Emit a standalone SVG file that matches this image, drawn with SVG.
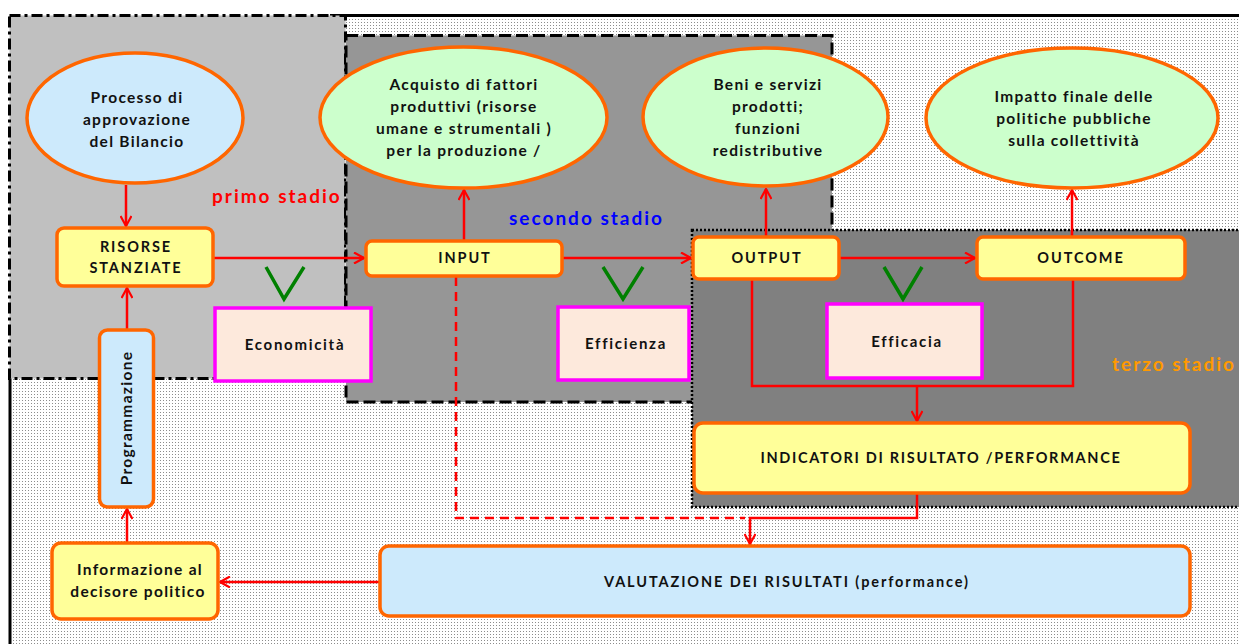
<svg xmlns="http://www.w3.org/2000/svg" width="1239" height="644" viewBox="0 0 1239 644">
  <defs>
    <pattern id="dots" width="3" height="3" patternUnits="userSpaceOnUse">
      <rect width="3" height="3" fill="#ffffff"/>
      <rect x="1" y="1" width="1" height="1" fill="#8c8c8c"/>
    </pattern>
    <marker id="arr" viewBox="0 0 12 12" refX="11" refY="6" markerWidth="12" markerHeight="12" markerUnits="userSpaceOnUse" orient="auto">
      <path d="M1,0.5 L11,6 L1,11.5" fill="none" stroke="#ff0000" stroke-width="2.2"/>
    </marker>
    <style>
      .t { font-family: Lato, "Liberation Sans", sans-serif; font-weight: bold; fill: #111111; text-anchor: middle; }
      .e { font-size: 15.5px; letter-spacing: 1.3px; }
      .b { font-size: 14.5px; letter-spacing: 1.9px; }
      .m { font-size: 15px; letter-spacing: 1.7px; }
      .stage { font-family: Lato, "Liberation Sans", sans-serif; font-weight: bold; font-size: 19px; letter-spacing: 2px; }
      .ell-b { fill: #cdeafc; stroke: #ff6600; stroke-width: 3.5; }
      .ell-g { fill: #ccffcc; stroke: #ff6600; stroke-width: 3.5; }
      .yel { fill: #ffff99; stroke: #ff6600; stroke-width: 3.5; }
      .blu { fill: #cdeafc; stroke: #ff6600; stroke-width: 3.5; }
      .mag { fill: #fde9dc; stroke: #ff00ff; stroke-width: 3.5; }
      .ln { fill: none; stroke: #ff0000; stroke-width: 2.5; }
      .chk { fill: none; stroke: #008000; stroke-width: 3.5; }
    </style>
  </defs>

  <!-- page background -->
  <rect x="0" y="0" width="1239" height="644" fill="#ffffff"/>
  <rect x="9" y="15" width="1230" height="629" fill="url(#dots)"/>

  <!-- outer frame -->
  <g id="frame" stroke="#000000" stroke-width="3" fill="none">
    <line x1="330" y1="15.5" x2="1239" y2="15.5"/>
    <line x1="10" y1="378" x2="10" y2="644"/>
  </g>

  <!-- stage areas -->
  <g id="stage1">
    <rect x="9.5" y="15.5" width="336" height="363" fill="#c0c0c0" stroke="#000000" stroke-width="3" stroke-dasharray="11,4,3,4"/>
  </g>
  <g id="stage2">
    <rect x="346" y="35.5" width="486" height="366.5" fill="#969696" stroke="#000000" stroke-width="3" stroke-dasharray="12,5"/>
  </g>
  <g id="stage3">
    <rect x="692" y="230" width="552" height="277" fill="#808080" stroke="#000000" stroke-width="2.5" stroke-dasharray="2,2"/>
  </g>

  <!-- stage labels -->
  <text class="stage" x="212" y="203" fill="#ff0000">primo stadio</text>
  <text class="stage" x="509" y="225" fill="#0000ff">secondo stadio</text>
  <text class="stage" x="1112" y="371" fill="#ff9900">terzo stadio</text>

  <!-- connectors -->
  <g id="connectors">
    <line class="ln" x1="126" y1="185" x2="126" y2="226" marker-end="url(#arr)"/>
    <line class="ln" x1="127" y1="329" x2="127" y2="288" marker-end="url(#arr)"/>
    <line class="ln" x1="127" y1="542" x2="127" y2="509" marker-end="url(#arr)"/>
    <line class="ln" x1="380" y1="582" x2="220" y2="582" marker-end="url(#arr)"/>
    <line class="ln" x1="213" y1="258" x2="364" y2="258" marker-end="url(#arr)"/>
    <line class="ln" x1="464" y1="240" x2="464" y2="190" marker-end="url(#arr)"/>
    <line class="ln" x1="562" y1="258" x2="691" y2="258" marker-end="url(#arr)"/>
    <line class="ln" x1="766" y1="236" x2="766" y2="189" marker-end="url(#arr)"/>
    <line class="ln" x1="839" y1="258" x2="975" y2="258" marker-end="url(#arr)"/>
    <line class="ln" x1="1072" y1="237" x2="1072" y2="190" marker-end="url(#arr)"/>
    <polyline class="ln" points="752,279 752,386 1073,386 1073,279"/>
    <line class="ln" x1="917" y1="386" x2="917" y2="421" marker-end="url(#arr)"/>
    <polyline class="ln" points="917,493 917,518 750,518 750,544" marker-end="url(#arr)"/>
    <polyline class="ln" points="456,277 456,518 745,518" stroke-dasharray="9,6"/>
  </g>

  <!-- check marks -->
  <g id="checks">
    <polyline class="chk" points="266,267 284,299 304,267"/>
    <polyline class="chk" points="603,267 623,299 643,267"/>
    <polyline class="chk" points="884,267 903,299 922,267"/>
  </g>

  <!-- ellipses -->
  <g id="processo">
    <ellipse class="ell-b" cx="135" cy="118" rx="108" ry="65"/>
    <text class="t e" x="137" y="103">Processo di</text>
    <text class="t e" x="137" y="125">approvazione</text>
    <text class="t e" x="137" y="147">del Bilancio</text>
  </g>
  <g id="acquisto">
    <ellipse class="ell-g" cx="463.5" cy="117.5" rx="143.5" ry="70.5"/>
    <text class="t e" x="464" y="90">Acquisto di fattori</text>
    <text class="t e" x="464" y="112">produttivi (risorse</text>
    <text class="t e" x="464" y="134">umane e strumentali )</text>
    <text class="t e" x="464" y="156">per la produzione /</text>
  </g>
  <g id="beni">
    <ellipse class="ell-g" cx="765.5" cy="117" rx="122.5" ry="69"/>
    <text class="t e" x="768" y="90">Beni e servizi</text>
    <text class="t e" x="768" y="112">prodotti;</text>
    <text class="t e" x="768" y="134">funzioni</text>
    <text class="t e" x="768" y="156">redistributive</text>
  </g>
  <g id="impatto">
    <ellipse class="ell-g" cx="1072" cy="118" rx="146" ry="70"/>
    <text class="t e" x="1074" y="102">Impatto finale delle</text>
    <text class="t e" x="1074" y="124">politiche pubbliche</text>
    <text class="t e" x="1074" y="146">sulla collettività</text>
  </g>

  <!-- process boxes -->
  <g id="risorse">
    <rect class="yel" x="57" y="228" width="156" height="58" rx="7"/>
    <text class="t b" x="136" y="252">RISORSE</text>
    <text class="t b" x="136" y="273">STANZIATE</text>
  </g>
  <g id="input">
    <rect class="yel" x="366" y="241" width="196" height="35" rx="6"/>
    <text class="t b" x="465" y="263">INPUT</text>
  </g>
  <g id="output">
    <rect class="yel" x="693" y="237" width="146" height="42" rx="6"/>
    <text class="t b" x="767" y="263">OUTPUT</text>
  </g>
  <g id="outcome">
    <rect class="yel" x="977" y="237" width="208" height="42" rx="6"/>
    <text class="t b" x="1081" y="263">OUTCOME</text>
  </g>
  <g id="economicita">
    <rect class="mag" x="215" y="308" width="156" height="73"/>
    <text class="t m" x="295" y="350">Economicità</text>
  </g>
  <g id="efficienza">
    <rect class="mag" x="558" y="307" width="131" height="73"/>
    <text class="t m" x="626" y="349">Efficienza</text>
  </g>
  <g id="efficacia">
    <rect class="mag" x="827" y="304" width="155" height="74"/>
    <text class="t m" x="907" y="347">Efficacia</text>
  </g>
  <g id="indicatori">
    <rect class="yel" x="694" y="423" width="496" height="70" rx="9"/>
    <text class="t b" x="941" y="463" style="letter-spacing:1.7px">INDICATORI DI RISULTATO /PERFORMANCE</text>
  </g>
  <g id="valutazione">
    <rect class="blu" x="380" y="546" width="810" height="70" rx="9"/>
    <text class="t b" x="787" y="587">VALUTAZIONE DEI RISULTATI (performance)</text>
  </g>
  <g id="informazione">
    <rect class="yel" x="52" y="543" width="166" height="76" rx="9"/>
    <text class="t e" x="140" y="575">Informazione al</text>
    <text class="t e" x="138" y="597">decisore politico</text>
  </g>
  <g id="programmazione">
    <rect class="blu" x="99.5" y="330" width="54" height="177" rx="8"/>
    <text class="t e" x="0" y="0" transform="translate(132,418) rotate(-90)">Programmazione</text>
  </g>
</svg>
